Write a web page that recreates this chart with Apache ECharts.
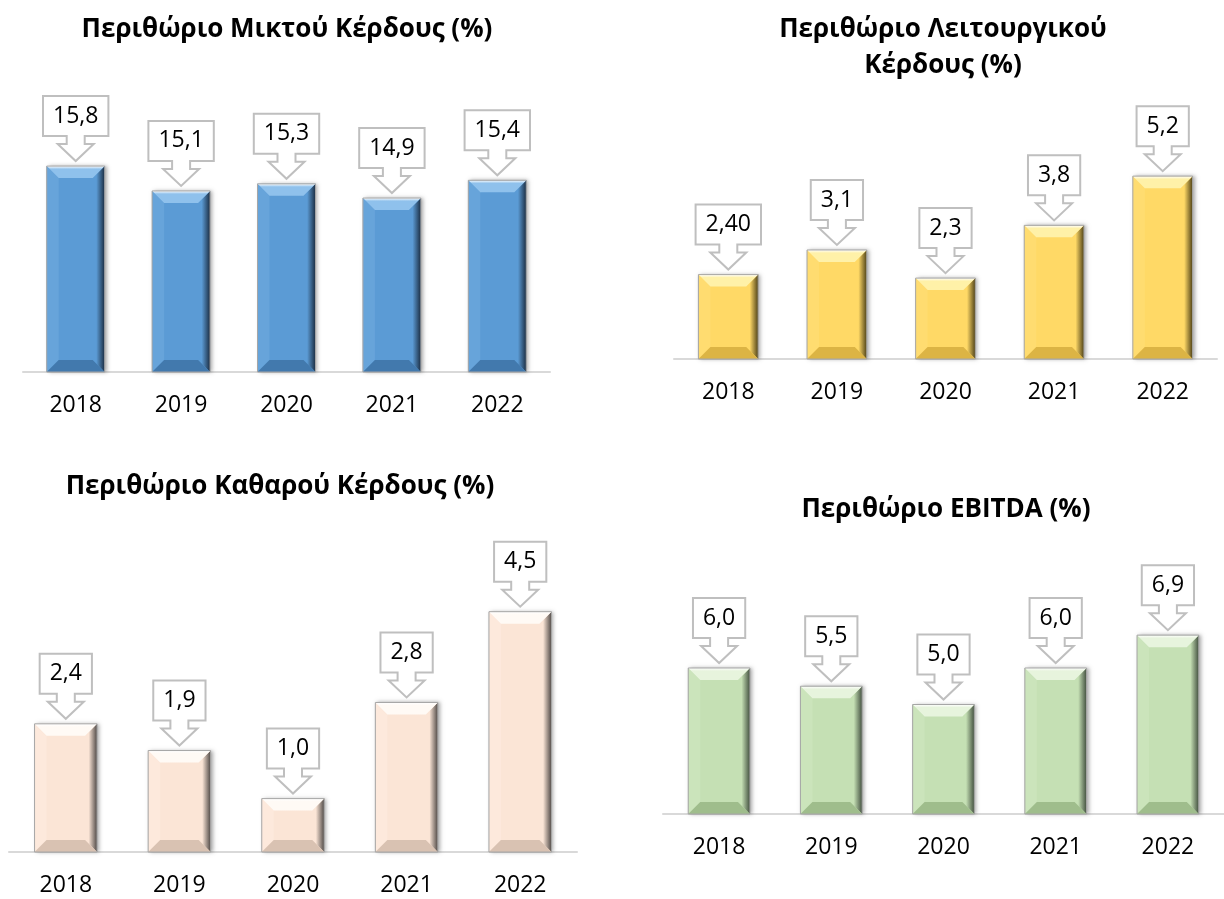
<!DOCTYPE html>
<html>
<head>
<meta charset="utf-8">
<script src="https://cdn.jsdelivr.net/npm/echarts@6/dist/echarts.min.js"></script>
<style>
html, body { margin: 0; padding: 0; background: #fff; }
#chart { width: 1224px; height: 899px; }
</style>
</head>
<body>
<div id="chart"></div>
<script>
// data
var years = ['2018', '2019', '2020', '2021', '2022'];

var grossMargin = [15.8, 15.1, 15.3, 14.9, 15.4];
var grossLabels = ['15,8', '15,1', '15,3', '14,9', '15,4'];

var operatingMargin = [2.40, 3.1, 2.3, 3.8, 5.2];
var operatingLabels = ['2,40', '3,1', '2,3', '3,8', '5,2'];

var netMargin = [2.4, 1.9, 1.0, 2.8, 4.5];
var netLabels = ['2,4', '1,9', '1,0', '2,8', '4,5'];

var ebitdaMargin = [6.0, 5.5, 5.0, 6.0, 6.9];
var ebitdaLabels = ['6,0', '5,5', '5,0', '6,0', '6,9'];

var FONT = '"Open Sans", "Noto Sans", sans-serif';
var LABEL_SIZE = 23;

var palettes = {
    blue:   { base: '#5b9bd5', light: '#8fc1ec', left: '#67a4da', dark: '#1b2d42', bottom: '#4279ad' },
    yellow: { base: '#ffd966', light: '#fff1a8', left: '#ffdc70', dark: '#4f4218', bottom: '#dcb444' },
    peach:  { base: '#fbe5d6', light: '#fffaf5', left: '#fde9dc', dark: '#4f4946', bottom: '#d9c2b2' },
    green:  { base: '#c5e0b4', light: '#e7f4dd', left: '#cbe4bb', dark: '#435040', bottom: '#9fbd8c' }
};

var measureCtx = document.createElement('canvas').getContext('2d');
function textWidth(t) {
    measureCtx.font = LABEL_SIZE + 'px ' + FONT;
    return measureCtx.measureText(t).width;
}

function bevelBar(pal) {
    return function (params, api) {
        var cs = params.coordSys;
        var p = api.coord([api.value(0), api.value(1)]);
        var w = api.size([1, 0])[0] * 0.55;
        var x = p[0] - w / 2;
        var y = p[1];
        var h = cs.y + cs.height - y;
        var b = 12;
        return {
            type: 'group',
            children: [
                { type: 'rect', shape: { x: x, y: y, width: w, height: h },
                  style: { fill: pal.base, shadowBlur: 4, shadowOffsetX: 2, shadowColor: 'rgba(0,0,0,0.35)' } },
                { type: 'polygon', shape: { points: [[x, y], [x + b, y + b], [x + b, y + h - b], [x, y + h]] },
                  style: { fill: pal.left } },
                { type: 'polygon', shape: { points: [[x + w, y], [x + w, y + h], [x + w - b, y + h - b], [x + w - b, y + b]] },
                  style: { fill: { type: 'linear', x: 0, y: 0, x2: 1, y2: 0,
                      colorStops: [{ offset: 0, color: pal.base }, { offset: 0.3, color: pal.base }, { offset: 1, color: pal.dark }] } } },
                { type: 'polygon', shape: { points: [[x, y + h], [x + w, y + h], [x + w - b, y + h - b], [x + b, y + h - b]] },
                  style: { fill: pal.bottom } },
                { type: 'polygon', shape: { points: [[x, y], [x + w, y], [x + w - b, y + b], [x + b, y + b]] },
                  style: { fill: { type: 'linear', x: 0, y: 0, x2: 0, y2: 1,
                      colorStops: [{ offset: 0, color: '#ffffff' }, { offset: 0.25, color: pal.light }, { offset: 1, color: pal.light }] } } },
                { type: 'rect', shape: { x: x, y: y, width: w, height: h },
                  style: { fill: 'none', stroke: '#a6a6a6', lineWidth: 1 } }
            ]
        };
    };
}

function callout(labels) {
    return function (params, api) {
        var p = api.coord([api.value(0), api.value(1)]);
        var txt = labels[params.dataIndex];
        var w = textWidth(txt) + 20;
        var cx = p[0];
        var tip = p[1] - 5;
        var B = tip - 25, T = B - 40, L = cx - w / 2, R = cx + w / 2;
        var pts = [[L, T], [R, T], [R, B], [cx + 9, B], [cx + 9, B + 8], [cx + 18, B + 8], [cx, tip],
                   [cx - 18, B + 8], [cx - 9, B + 8], [cx - 9, B], [L, B]];
        return {
            type: 'group',
            children: [
                { type: 'polygon', shape: { points: pts }, style: { fill: '#fff', stroke: '#bfbfbf', lineWidth: 2 } },
                { type: 'text', style: { text: txt, x: cx, y: (T + B) / 2, align: 'center', verticalAlign: 'middle',
                    fontSize: LABEL_SIZE, fontFamily: FONT, fill: '#000' } }
            ]
        };
    };
}

var panels = [
    { title: 'Περιθώριο Μικτού Κέρδους (%)', tx: 287, ty: 12,
      grid: { left: 23, top: 88, width: 527, height: 284 }, min: 10, max: 18,
      values: grossMargin, labels: grossLabels, pal: palettes.blue },
    { title: 'Περιθώριο Λειτουργικού\nΚέρδους (%)', tx: 943, ty: 12,
      grid: { left: 674, top: 148, width: 543, height: 211 }, min: 0, max: 6,
      values: operatingMargin, labels: operatingLabels, pal: palettes.yellow },
    { title: 'Περιθώριο Καθαρού Κέρδους (%)', tx: 280, ty: 469,
      grid: { left: 9, top: 585, width: 568, height: 267 }, min: 0, max: 5,
      values: netMargin, labels: netLabels, pal: palettes.peach },
    { title: 'Περιθώριο EBITDA (%)', tx: 946, ty: 492,
      grid: { left: 663, top: 595, width: 561, height: 219 }, min: 2, max: 8,
      values: ebitdaMargin, labels: ebitdaLabels, pal: palettes.green }
];

var option = {
    backgroundColor: '#fff',
    animation: false,
    title: [], grid: [], xAxis: [], yAxis: [], series: []
};

panels.forEach(function (pn, i) {
    option.title.push({
        text: pn.title, left: pn.tx, top: pn.ty, textAlign: 'center', padding: 0,
        textStyle: { fontFamily: FONT, fontSize: 26, fontWeight: 'bold', color: '#000', lineHeight: 36 }
    });
    option.grid.push({ left: pn.grid.left, top: pn.grid.top, width: pn.grid.width, height: pn.grid.height, containLabel: false });
    option.xAxis.push({
        type: 'category', gridIndex: i, data: years,
        axisTick: { show: false },
        axisLine: { lineStyle: { color: '#d9d9d9', width: 2 } },
        axisLabel: { fontFamily: FONT, fontSize: LABEL_SIZE, color: '#000', margin: 22 }
    });
    option.yAxis.push({ type: 'value', gridIndex: i, min: pn.min, max: pn.max, show: false, splitLine: { show: false } });
    var data = pn.values.map(function (v, k) { return [k, v]; });
    option.series.push({
        type: 'custom', xAxisIndex: i, yAxisIndex: i, data: data,
        encode: { x: 0, y: 1 }, renderItem: bevelBar(pn.pal), z: 2
    });
    option.series.push({
        type: 'custom', xAxisIndex: i, yAxisIndex: i, data: data,
        encode: { x: 0, y: 1 }, renderItem: callout(pn.labels), z: 3
    });
});

var myChart = echarts.init(document.getElementById('chart'));
myChart.setOption(option);
</script>
</body>
</html>
